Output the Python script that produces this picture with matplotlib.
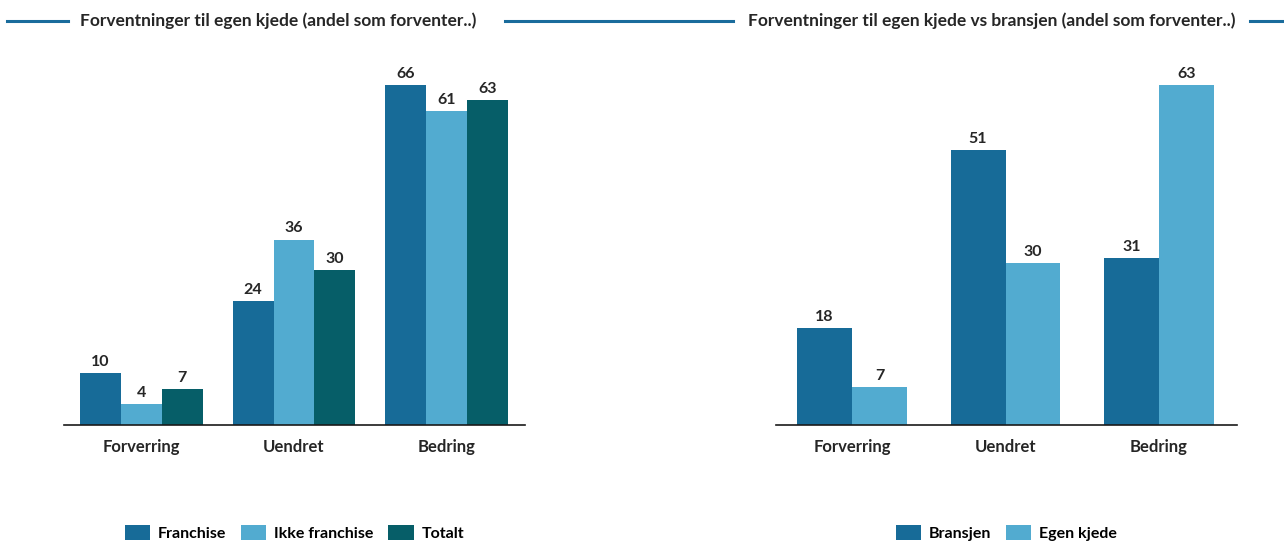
import numpy as np
import matplotlib.pyplot as plt
from matplotlib.lines import Line2D

plt.rcParams['font.family'] = ['Lato', 'DejaVu Sans']
plt.rcParams['font.weight'] = 'bold'

# Data
categories = ['Forverring', 'Uendret', 'Bedring']

left_title = 'Forventninger til egen kjede (andel som forventer..)'
left_series = ['Franchise', 'Ikke franchise', 'Totalt']
franchise = [10, 24, 66]
ikke_franchise = [4, 36, 61]
totalt = [7, 30, 63]

right_title = 'Forventninger til egen kjede vs bransjen (andel som forventer..)'
right_series = ['Bransjen', 'Egen kjede']
bransjen = [18, 51, 31]
egen_kjede = [7, 30, 63]

dark_blue = '#176b98'
light_blue = '#52abd0'
teal = '#065e68'
text_col = '#262626'

W, H = 1284, 543
fig = plt.figure(figsize=(W / 100, H / 100), dpi=100)


def px_axes(x0, x1, base, top):
    return fig.add_axes([x0 / W, (H - base) / H, (x1 - x0) / W, (base - top) / H])


def grouped(ax, series, names, colors, width, xlim):
    x = np.arange(len(categories))
    n = len(series)
    vmax = max(max(s) for s in series)
    for i, (vals, name, c) in enumerate(zip(series, names, colors)):
        pos = x + (i - (n - 1) / 2) * width
        bars = ax.bar(pos, vals, width, color=c, label=name)
        for b, v in zip(bars, vals):
            ax.text(b.get_x() + b.get_width() / 2, v + vmax * 0.012, str(v),
                    ha='center', va='bottom', fontsize=11.5, fontweight='bold',
                    color=text_col)
    ax.set_xlim(*xlim)
    ax.set_ylim(0, vmax * 360 / 340)
    ax.set_xticks(x)
    ax.set_xticklabels(categories, fontsize=12, fontweight='bold', color=text_col)
    ax.tick_params(axis='x', length=0, pad=10)
    ax.set_yticks([])
    for s in ['top', 'right', 'left']:
        ax.spines[s].set_visible(False)
    ax.spines['bottom'].set_color('#1a1a1a')
    ax.spines['bottom'].set_linewidth(1.2)
    ax.legend(loc='center', bbox_to_anchor=(0.5, -0.30), ncol=n, frameon=False,
              handlelength=1.6, handleheight=1.1,
              handletextpad=0.5, columnspacing=0.9,
              prop={'weight': 'bold', 'size': 11.5})


ax1 = px_axes(64, 525, 425, 65)
grouped(ax1, [franchise, ikke_franchise, totalt], left_series,
        [dark_blue, light_blue, teal], 0.268, (-0.508, 2.515))

ax2 = px_axes(776, 1237, 425, 65)
grouped(ax2, [bransjen, egen_kjede], right_series,
        [dark_blue, light_blue], 0.358, (-0.495, 2.508))

# Panel headers: title text between two rule lines
ty = 1 - 21 / H
for seg in [(7, 68), (505, 733), (1250, 1282)]:
    fig.add_artist(Line2D([seg[0] / W, seg[1] / W], [ty, ty], color='#1a6c9c',
                          linewidth=2.2, transform=fig.transFigure))
fig.text(278 / W, ty, left_title, ha='center', va='center', fontsize=12.5,
         fontweight='bold', color=text_col)
fig.text(992 / W, ty, right_title, ha='center', va='center', fontsize=12.5,
         fontweight='bold', color=text_col)

fig.savefig('out.png', dpi=100)
